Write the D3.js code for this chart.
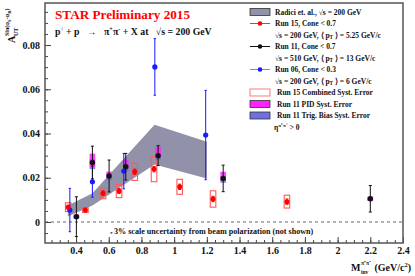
<!DOCTYPE html>
<html>

<head>
    <script src="https://d3js.org/d3.v7.min.js"></script>
    <title>STAR Preliminary 2015</title>
    <style>
        body { margin: 0; background: #fff; }
        text { font-family: "Liberation Serif", "Times New Roman", serif; font-weight: bold; }
    </style>
</head>

<body>
    <svg></svg>
    <script>
        // theory band (Radici et al.)
        const bandX = [0.35, 0.5, 0.88, 1.2];
        const bandLo = [0.0025, 0.0075, 0.026, 0.0197];
        const bandHi = [0.0075, 0.013, 0.044, 0.0363];

        // Run 15, cone < 0.7
        const run15X = [0.352, 0.457, 0.565, 0.663, 0.759, 0.877, 1.034, 1.238, 1.69];
        const run15Y = [0.0067, 0.0054, 0.013, 0.014, 0.0227, 0.0239, 0.0159, 0.0104, 0.0092];
        const run15Err = [0.0009, 0.0008, 0.0011, 0.0011, 0.0012, 0.0012, 0.0012, 0.0012, 0.0012];
        const run15Sys = [0.002, 0.0011, 0.0025, 0.003, 0.0039, 0.0057, 0.0034, 0.0037, 0.0029];

        // Run 11, cone < 0.7
        const run11X = [0.402, 0.5, 0.602, 0.704, 0.902, 1.30, 2.2];
        const run11Y = [0.0024, 0.0269, 0.0208, 0.025, 0.030, 0.0197, 0.0105];
        const run11Err = [0.009, 0.0074, 0.0072, 0.006, 0.0045, 0.006, 0.006];
        const run11PidUp = [0.001, 0.004, 0.002, 0.003, 0.004, 0.003, 0.001];
        const run11PidDn = [0.0005, 0.002, 0.001, 0.001, 0.001, 0.001, 0.0008];
        const run11Trig = [0.001, 0.003, 0.002, 0.002, 0.002, 0.002, 0.001];

        // Run 06, cone < 0.3
        const run06X = [0.362, 0.5, 0.692, 0.882, 1.193];
        const run06Y = [0.0054, 0.0182, 0.023, 0.0701, 0.0393];
        const run06Err = [0.0098, 0.007, 0.008, 0.0128, 0.0202];

        const xTicks = d3.range(2, 13).map(i => i / 5);
        const yTicks = [0, 0.02, 0.04, 0.06, 0.08];

        const width = 415;
        const height = 276;
        const padL = 45, padR = 403, padT = 3, padB = 243;

        const svg = d3.select("svg")
            .attr("width", width)
            .attr("height", height);

        const x = d3.scaleLinear().domain([0.21, 2.4]).range([padL, padR]);
        const y = d3.scaleLinear().domain([-0.0095, 0.099]).range([padB, padT]);

        // zero line
        svg.append("line")
            .attr("x1", padL).attr("x2", padR)
            .attr("y1", y(0)).attr("y2", y(0))
            .attr("stroke", "#666").attr("stroke-width", 1)
            .attr("stroke-dasharray", "3,3");

        // theory band
        const area = d3.area()
            .x((d, i) => x(bandX[i]))
            .y0((d, i) => y(bandLo[i]))
            .y1((d, i) => y(bandHi[i]));
        svg.append("path")
            .attr("d", area(bandX))
            .attr("fill", "#9191a9");

        const sw = 0.017; // half width of syst boxes in GeV

        // Run 15 syst boxes
        svg.selectAll(".sys15")
            .data(run15X)
            .enter()
            .append("rect")
            .attr("x", d => x(d - sw))
            .attr("width", d => x(d + sw) - x(d - sw))
            .attr("y", (d, i) => y(run15Y[i] + run15Sys[i]))
            .attr("height", (d, i) => y(run15Y[i] - run15Sys[i]) - y(run15Y[i] + run15Sys[i]))
            .attr("fill", "none")
            .attr("stroke", "#ff5a5a")
            .attr("stroke-width", 1.1);

        // Run 11 trig bias + PID boxes
        svg.selectAll(".trig11")
            .data(run11X)
            .enter()
            .append("rect")
            .attr("x", d => x(d - sw))
            .attr("width", d => x(d + sw) - x(d - sw))
            .attr("y", (d, i) => y(run11Y[i] + run11Trig[i] / 2))
            .attr("height", (d, i) => y(run11Y[i] - run11Trig[i]) - y(run11Y[i] + run11Trig[i] / 2))
            .attr("fill", "#6f6fe0")
            .attr("opacity", 0.8);
        svg.selectAll(".pid11")
            .data(run11X)
            .enter()
            .append("rect")
            .attr("x", d => x(d - sw))
            .attr("width", d => x(d + sw) - x(d - sw))
            .attr("y", (d, i) => y(run11Y[i] + run11PidUp[i]))
            .attr("height", (d, i) => y(run11Y[i] - run11PidDn[i]) - y(run11Y[i] + run11PidUp[i]))
            .attr("fill", "#ff22ff")
            .attr("opacity", 0.85);

        function drawSeries(xs, ys, errs, color, r, cap) {
            const g = svg.append("g");
            xs.forEach((xv, i) => {
                const cx = x(xv);
                const y1 = Math.min(y(ys[i] - errs[i]), padB);
                const y2 = y(ys[i] + errs[i]);
                g.append("line")
                    .attr("x1", cx).attr("x2", cx)
                    .attr("y1", y1).attr("y2", y2)
                    .attr("stroke", color).attr("stroke-width", 1);
                [y(ys[i] - errs[i]), y2].forEach(yy => {
                    if (yy > padB) return;
                    g.append("line")
                        .attr("x1", cx - cap).attr("x2", cx + cap)
                        .attr("y1", yy).attr("y2", yy)
                        .attr("stroke", color).attr("stroke-width", 1);
                });
                g.append("circle")
                    .attr("cx", cx).attr("cy", y(ys[i]))
                    .attr("r", r)
                    .attr("fill", color);
            });
        }

        drawSeries(run06X, run06Y, run06Err, "#1a1aff", 2.6, 1.2);
        drawSeries(run15X, run15Y, run15Err, "#ff0000", 2.5, 1.5);
        drawSeries(run11X, run11Y, run11Err, "#111", 2.7, 1.5);

        // axes
        const yAxis = d3.axisLeft(y)
            .tickValues(yTicks)
            .tickSize(-6)
            .tickPadding(5)
            .tickFormat(d => d === 0 ? "0" : d.toFixed(2));
        const yMinor = d3.axisLeft(y)
            .tickValues(d3.range(-1, 20).map(i => i * 0.005))
            .tickSize(-3)
            .tickFormat("");
        const xAxis = d3.axisBottom(x)
            .tickValues(xTicks)
            .tickSize(-6)
            .tickPadding(4)
            .tickFormat(d => String(d));
        const xMinor = d3.axisBottom(x)
            .tickValues(d3.range(5, 49).map(i => i * 0.05))
            .tickSize(-3)
            .tickFormat("");

        [yMinor, yAxis].forEach(a => {
            const g = svg.append("g").attr("transform", `translate(${padL},0)`).call(a);
            g.select(".domain").remove();
            g.selectAll("line").attr("stroke", "#444");
            g.selectAll("text").attr("font-size", 10).attr("fill", "#111")
                .attr("font-family", "Liberation Serif").attr("font-weight", "bold");
        });
        [xMinor, xAxis].forEach(a => {
            const g = svg.append("g").attr("transform", `translate(0,${padB})`).call(a);
            g.select(".domain").remove();
            g.selectAll("line").attr("stroke", "#444");
            g.selectAll("text").attr("font-size", 10).attr("fill", "#111")
                .attr("font-family", "Liberation Serif").attr("font-weight", "bold");
        });

        // frame
        svg.append("rect")
            .attr("x", padL).attr("y", padT)
            .attr("width", padR - padL).attr("height", padB - padT)
            .attr("fill", "none")
            .attr("stroke", "#555").attr("stroke-width", 1.5);

        // title
        svg.append("text")
            .attr("x", 55).attr("y", 19)
            .attr("font-size", 13.2).attr("fill", "#ff0000")
            .text("STAR Preliminary 2015");
        const sub = svg.append("text")
            .attr("x", 55).attr("y", 34.5)
            .style("white-space", "pre")
            .attr("font-size", 9.8).attr("fill", "#111");
        sub.append("tspan").text("p");
        sub.append("tspan").attr("font-size", 6.2).attr("dy", -4).text("↑");
        sub.append("tspan").attr("dy", 4).text(" + p   →   π");
        sub.append("tspan").attr("font-size", 6.2).attr("dy", -4).text("+");
        sub.append("tspan").attr("dy", 4).text("π");
        sub.append("tspan").attr("font-size", 6.2).attr("dy", -4).text("-");
        sub.append("tspan").attr("dy", 4).text(" + X at   √s = 200 GeV");

        // y title
        const yt = svg.append("g").attr("transform", "translate(15,43) rotate(-90)");
        yt.append("text").attr("font-size", 10).attr("fill", "#111").text("A");
        yt.append("text").attr("x", 7).attr("y", 3).attr("font-size", 6).attr("fill", "#111").text("UT");
        const ys = yt.append("text").attr("x", 7).attr("y", -6).attr("font-size", 6).attr("fill", "#111");
        ys.append("tspan").text("Sin(φ");
        ys.append("tspan").attr("font-size", 4.5).attr("dy", 1.5).text("S");
        ys.append("tspan").attr("dy", -1.5).text("-φ");
        ys.append("tspan").attr("font-size", 4.5).attr("dy", 1.5).text("R");
        ys.append("tspan").attr("dy", -1.5).text(")");

        // x title
        const xt = svg.append("text")
            .attr("x", 411).attr("y", 271)
            .attr("text-anchor", "end")
            .attr("font-size", 10).attr("fill", "#111");
        xt.append("tspan").text("(GeV/c");
        xt.append("tspan").attr("font-size", 6.5).attr("dy", -4).text("2");
        xt.append("tspan").attr("dy", 4).text(")");
        const xtw = xt.node().getComputedTextLength();
        const mEnd = 411 - xtw - 14;
        svg.append("text").attr("x", mEnd).attr("y", 271).attr("text-anchor", "end")
            .attr("font-size", 10).attr("fill", "#111").text("M");
        svg.append("text").attr("x", mEnd + 0.5).attr("y", 273.5)
            .attr("font-size", 5.5).attr("fill", "#111").text("inv");
        svg.append("text").attr("x", mEnd + 0.5).attr("y", 265)
            .attr("font-size", 5.5).attr("fill", "#111").text("π⁺π⁻");

        // scale note
        const note = svg.append("text")
            .attr("x", 110).attr("y", 234)
            .attr("font-size", 8.1).attr("fill", "#111");
        note.append("tspan").attr("font-size", 5).text("± ");
        note.append("tspan").text("3% scale uncertainty from beam polarization (not shown)");

        // legend
        const legY0 = 12, legDy = 11.5, legX = 250, legW = 20, legT = 275;
        const legendRows = [
            { kind: "band", label: "Radici et. al.,  √s = 200 GeV" },
            { kind: "line", color: "#ff0000", lineColor: "#ff3030", label: "Run 15, Cone < 0.7" },
            { kind: "text", label: "√s = 200 GeV,  ⟨ p", sub: "T", tail: " ⟩ = 5.25 GeV/c" },
            { kind: "line", color: "#111", lineColor: "#111", label: "Run 11, Cone < 0.7" },
            { kind: "text", label: "√s = 510 GeV,  ⟨ p", sub: "T", tail: " ⟩ = 13 GeV/c" },
            { kind: "line", color: "#1a1aff", lineColor: "#8080ff", label: "Run 06, Cone < 0.3" },
            { kind: "text", label: "√s = 200 GeV,  ⟨ p", sub: "T", tail: " ⟩ = 6 GeV/c" },
            { kind: "box", fill: "none", stroke: "#ff5a5a", label: "Run 15 Combined Syst. Error" },
            { kind: "box", fill: "#ff22ff", stroke: "#333", label: "Run 11 PID Syst. Error" },
            { kind: "box", fill: "#6f6fe0", stroke: "#333", label: "Run 11 Trig. Bias Syst. Error" },
            { kind: "eta", label: "η" }
        ];
        legendRows.forEach((row, i) => {
            const cy = legY0 + i * legDy;
            let tx = legT;
            if (row.kind === "band") {
                svg.append("rect").attr("x", legX).attr("y", cy - 3.5)
                    .attr("width", legW).attr("height", 7)
                    .attr("fill", "#9191a9").attr("stroke", "#333").attr("stroke-width", 0.8);
            } else if (row.kind === "line") {
                svg.append("line").attr("x1", legX).attr("x2", legX + legW)
                    .attr("y1", cy).attr("y2", cy)
                    .attr("stroke", row.lineColor).attr("stroke-width", 1);
                svg.append("circle").attr("cx", legX + legW / 2).attr("cy", cy)
                    .attr("r", 2.3).attr("fill", row.color);
            } else if (row.kind === "box") {
                svg.append("rect").attr("x", legX).attr("y", cy - 3.5)
                    .attr("width", legW).attr("height", 7)
                    .attr("fill", row.fill).attr("stroke", row.stroke).attr("stroke-width", 0.8);
                tx = legT + 2;
            } else if (row.kind === "eta") {
                tx = legT - 1;
            }
            const t = svg.append("text").attr("x", tx).attr("y", cy + 2.6)
                .attr("font-size", 7.5).attr("fill", "#111");
            t.append("tspan").text(row.label);
            if (row.sub) {
                t.append("tspan").attr("font-size", 5.2).attr("dy", 1.8).text(row.sub);
                t.append("tspan").attr("dy", -1.8).text(row.tail);
            }
            if (row.kind === "eta") {
                t.append("tspan").attr("font-size", 5).attr("dy", -3).text("π⁺π⁻");
                t.append("tspan").attr("dy", 3).text(" > 0");
            }
        });
    </script>
</body>

</html>
